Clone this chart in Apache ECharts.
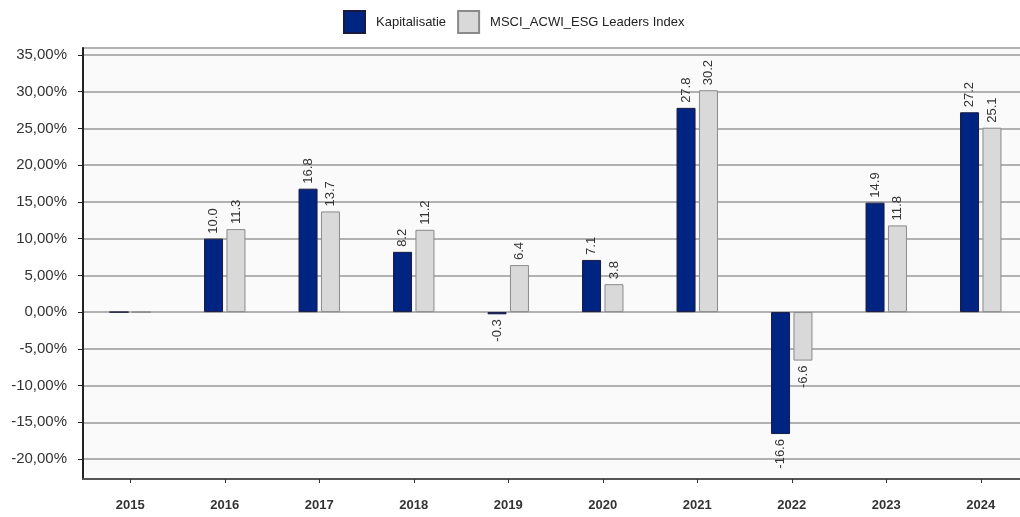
<!DOCTYPE html>
<html>
<head>
<meta charset="utf-8">
<script src="https://cdn.jsdelivr.net/npm/echarts@6/dist/echarts.min.js"></script>
<style>
  html, body { margin: 0; padding: 0; background: #fff; }
  #main { width: 1020px; height: 517px; }
</style>
</head>
<body>
<div id="main"></div>
<script>
// jaren en rendementen (%)
var years = ['2015', '2016', '2017', '2018', '2019', '2020', '2021', '2022', '2023', '2024'];
var kapitalisatie = [0, 10.0, 16.8, 8.2, -0.3, 7.1, 27.8, -16.6, 14.9, 27.2];
var msciEsg = [0, 11.3, 13.7, 11.2, 6.4, 3.8, 30.2, -6.6, 11.8, 25.1];
var seriesNames = ['Kapitalisatie', 'MSCI_ACWI_ESG Leaders Index'];

var narrow = "'Liberation Sans Narrow', 'Arial Narrow', 'Liberation Sans', sans-serif";

function buildData(values) {
  return values.map(function (v, i) {
    var item = { value: v };
    if (i === 0) {
      item.label = { show: false };
    } else if (v < 0) {
      item.label = { position: 'bottom', align: 'right' };
    }
    return item;
  });
}

function barSeries(name, values, color, border) {
  return {
    name: name,
    type: 'bar',
    barWidth: 19,
    barGap: '18%',
    data: buildData(values),
    itemStyle: { color: color, borderColor: border, borderWidth: 1 },
    label: {
      show: true,
      position: 'top',
      rotate: 90,
      align: 'left',
      verticalAlign: 'middle',
      distance: 5,
      fontFamily: narrow,
      fontSize: 13,
      color: '#333',
      formatter: function (p) { return p.value.toFixed(1); }
    }
  };
}

var myChart = echarts.init(document.getElementById('main'));
myChart.setOption({
  animation: false,
  legend: {
    top: 5,
    left: 338,
    icon: 'rect',
    itemWidth: 21,
    itemHeight: 22,
    itemGap: 11,
    textStyle: { fontFamily: narrow, fontSize: 13, color: '#222', padding: [0, 0, 0, 6] },
    data: seriesNames
  },
  grid: {
    left: 83,
    top: 48,
    width: 945,
    height: 431,
    outerBoundsMode: 'none',
    containLabel: false,
    show: true,
    backgroundColor: '#fafafa',
    borderWidth: 0
  },
  xAxis: {
    type: 'category',
    data: years,
    axisLine: { onZero: false, lineStyle: { color: '#555', width: 2 } },
    axisTick: { show: true, alignWithLabel: true, length: 4, lineStyle: { color: '#333' } },
    axisLabel: { margin: 20, fontFamily: narrow, fontSize: 13, fontWeight: 'bold', color: '#333' }
  },
  yAxis: {
    type: 'value',
    min: -22.72,
    max: 35.95,
    splitNumber: 12,
    axisLine: { show: true, lineStyle: { color: '#222', width: 2 } },
    axisTick: { show: true, length: 5, lineStyle: { color: '#222' } },
    splitLine: { show: true, lineStyle: { color: '#999', width: 1.5 } },
    axisLabel: {
      showMinLabel: false,
      showMaxLabel: false,
      margin: 16,
      fontFamily: "'Liberation Sans', Arial, sans-serif",
      fontSize: 15,
      color: '#333',
      formatter: function (v) { return v.toFixed(2).replace('.', ',') + '%'; }
    }
  },
  series: [
    barSeries(seriesNames[0], kapitalisatie, '#002481', '#1a1a40'),
    barSeries(seriesNames[1], msciEsg, '#d9d9d9', '#8a8a8a')
  ]
});
</script>
</body>
</html>
